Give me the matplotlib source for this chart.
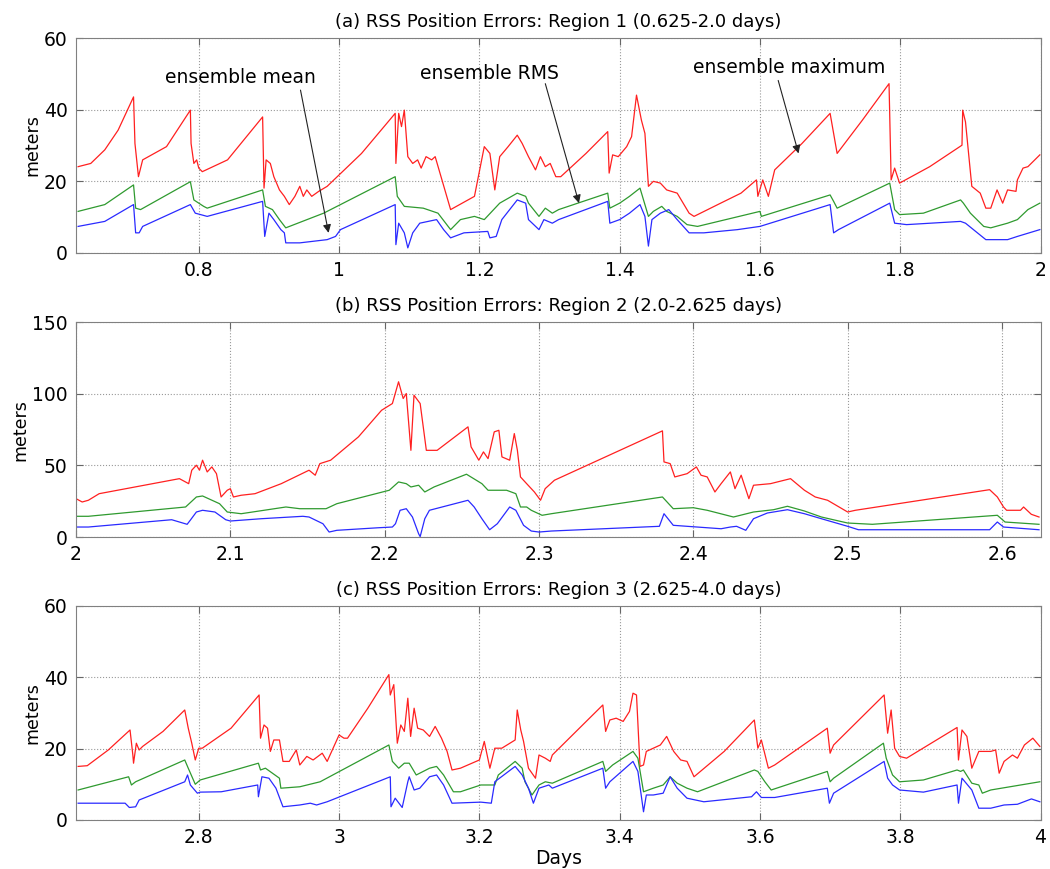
import matplotlib
matplotlib.use("Agg")
import matplotlib.pyplot as plt

plt.rcParams['font.family'] = ['DejaVu Sans']

# ---- region 1 (0.625-2.0 days) ----
a_max_x = [0.628, 0.646, 0.666, 0.685, 0.707, 0.709, 0.714, 0.72, 0.754, 0.788, 0.789, 0.793, 0.797, 0.80, 0.805,
           0.841, 0.891, 0.893, 0.896, 0.902, 0.907, 0.915, 0.922, 0.929, 0.937, 0.944, 0.949, 0.954, 0.961, 0.971,
           0.983, 1.032, 1.08, 1.081, 1.085, 1.089, 1.093, 1.098, 1.105, 1.112, 1.117, 1.124, 1.132, 1.137, 1.159,
           1.193, 1.207, 1.215, 1.222, 1.229, 1.241, 1.254, 1.261, 1.27, 1.28, 1.287, 1.294, 1.301, 1.309, 1.316,
           1.352, 1.383, 1.385, 1.39, 1.398, 1.41, 1.417, 1.424, 1.431, 1.436, 1.441, 1.448, 1.458, 1.467, 1.482,
           1.499, 1.506, 1.544, 1.573, 1.595, 1.597, 1.604, 1.612, 1.621, 1.66, 1.70, 1.71, 1.746, 1.784, 1.787,
           1.792, 1.799, 1.842, 1.888, 1.889, 1.893, 1.902, 1.914, 1.922, 1.929, 1.938, 1.946, 1.953, 1.965, 1.967,
           1.975, 1.982, 1.999]
a_max_y = [24.1, 25.0, 28.8, 34.3, 43.6, 30.6, 21.3, 26.0, 29.7, 39.9, 30.6, 25.0, 26.0, 23.7, 22.7,
           26.0, 38.0, 18.1, 26.0, 25.0, 21.3, 17.6, 15.8, 13.5, 15.8, 18.6, 15.8, 17.6, 15.8, 17.2,
           18.6, 27.8, 39.0, 25.0, 39.0, 35.3, 39.9, 26.9, 25.0, 26.0, 23.7, 26.9, 26.0, 26.9, 12.1,
           15.8, 29.7, 27.8, 17.6, 26.9, 29.7, 32.9, 30.6, 26.9, 23.2, 26.9, 24.1, 25.0, 21.3, 21.3,
           27.8, 33.9, 22.3, 27.4, 26.9, 29.7, 32.5, 44.1, 37.1, 33.4, 18.6, 20.0, 19.5, 17.6, 16.7,
           11.1, 10.2, 13.9, 16.7, 20.4, 15.8, 20.4, 15.8, 23.2, 30.6, 39.0, 27.8, 37.1, 47.3, 20.4,
           23.7, 19.5, 24.1, 30.1, 39.9, 36.6, 18.6, 16.7, 12.5, 12.5, 17.6, 13.9, 17.6, 17.2, 20.4,
           23.7, 24.1, 27.4]
a_rms_x = [0.628, 0.666, 0.707, 0.71, 0.717, 0.788, 0.793, 0.807, 0.812, 0.891, 0.895, 0.905, 0.915, 0.924, 0.978,
           1.08, 1.083, 1.093, 1.12, 1.141, 1.159, 1.173, 1.193, 1.207, 1.229, 1.254, 1.266, 1.27, 1.285, 1.294,
           1.304, 1.313, 1.383, 1.386, 1.40, 1.414, 1.429, 1.441, 1.448, 1.46, 1.467, 1.482, 1.496, 1.511, 1.60,
           1.602, 1.70, 1.705, 1.71, 1.785, 1.792, 1.799, 1.833, 1.886, 1.89, 1.90, 1.919, 1.929, 1.953, 1.967,
           1.982, 1.999]
a_rms_y = [11.6, 13.5, 19.0, 12.5, 12.1, 19.9, 14.8, 13.0, 12.5, 17.6, 13.0, 12.1, 9.3, 7.0, 11.1,
           21.3, 15.8, 13.0, 12.5, 11.1, 6.5, 9.3, 10.2, 9.3, 13.9, 16.7, 15.8, 13.9, 10.2, 12.5,
           11.1, 12.1, 16.7, 12.5, 13.9, 15.8, 18.1, 10.2, 11.6, 13.0, 11.6, 10.2, 7.9, 7.4, 11.6,
           10.2, 16.2, 14.4, 12.5, 19.5, 12.1, 10.7, 11.1, 14.8, 13.9, 11.1, 7.4, 7.0, 8.3, 9.3,
           12.1, 13.9]
a_mean_x = [0.628, 0.666, 0.707, 0.71, 0.715, 0.72, 0.788, 0.795, 0.812, 0.891, 0.894, 0.90, 0.907, 0.917, 0.922,
            0.924, 0.944, 0.983, 0.995, 1.002, 1.08, 1.081, 1.085, 1.093, 1.098, 1.105, 1.115, 1.139, 1.149, 1.159,
            1.178, 1.212, 1.215, 1.224, 1.232, 1.254, 1.266, 1.27, 1.285, 1.292, 1.304, 1.313, 1.383, 1.386, 1.40,
            1.414, 1.429, 1.436, 1.441, 1.446, 1.458, 1.47, 1.482, 1.499, 1.52, 1.568, 1.60, 1.70, 1.705, 1.712,
            1.785, 1.792, 1.809, 1.886, 1.893, 1.91, 1.922, 1.953, 1.967, 1.999]
a_mean_y = [7.4, 8.8, 13.5, 5.6, 5.6, 7.4, 13.5, 11.1, 10.2, 14.4, 4.6, 11.1, 9.3, 6.5, 5.6,
            2.8, 2.8, 3.7, 4.6, 6.5, 13.5, 2.3, 8.3, 5.6, 1.4, 5.6, 8.3, 9.3, 6.5, 4.2,
            5.6, 6.0, 4.2, 4.6, 9.3, 14.8, 13.9, 9.3, 6.5, 9.3, 8.3, 9.3, 14.4, 8.3, 9.3,
            11.1, 13.5, 10.2, 1.9, 9.3, 11.1, 12.1, 9.3, 5.6, 5.6, 6.5, 7.4, 13.5, 5.6, 6.5,
            13.9, 8.3, 7.9, 8.8, 8.3, 5.6, 3.7, 3.7, 4.6, 6.5]

# ---- region 2 (2.0-2.625 days) ----
b_max_x = [2.0, 2.004, 2.008, 2.015, 2.067, 2.073, 2.075, 2.078, 2.08, 2.082, 2.085, 2.088, 2.091, 2.094, 2.098,
           2.10, 2.102, 2.107, 2.116, 2.133, 2.151, 2.155, 2.158, 2.165, 2.183, 2.198, 2.205, 2.209, 2.212, 2.214,
           2.217, 2.219, 2.223, 2.227, 2.234, 2.254, 2.256, 2.261, 2.264, 2.267, 2.271, 2.274, 2.276, 2.281, 2.284,
           2.286, 2.288, 2.292, 2.297, 2.301, 2.304, 2.31, 2.38, 2.381, 2.385, 2.388, 2.396, 2.402, 2.405, 2.409,
           2.414, 2.418, 2.424, 2.427, 2.431, 2.436, 2.439, 2.45, 2.463, 2.472, 2.479, 2.487, 2.50, 2.505, 2.592,
           2.597, 2.601, 2.603, 2.612, 2.614, 2.619, 2.624]
b_max_y = [26.8, 24.5, 25.7, 30.3, 40.8, 37.3, 46.7, 50.2, 46.7, 53.7, 45.5, 49.0, 44.3, 28.0, 32.7,
           33.8, 28.0, 29.2, 30.3, 37.3, 46.7, 43.2, 51.3, 53.7, 70.0, 88.6, 93.3, 108.5, 96.8, 100.3,
           60.6, 99.1, 93.3, 60.6, 60.6, 77.0, 63.0, 53.7, 59.5, 54.8, 73.5, 74.6, 56.0, 53.7, 72.3,
           60.6, 42.0, 37.3, 31.5, 25.7, 33.8, 39.7, 74.2, 52.5, 51.3, 42.0, 44.3, 49.0, 43.2, 42.0,
           31.5, 37.3, 45.5, 33.8, 43.2, 26.8, 36.2, 37.3, 40.8, 32.7, 28.0, 25.7, 17.5, 18.7, 33.1,
           28.0, 21.0, 18.7, 18.7, 21.0, 15.9, 14.0]
b_rms_x = [2.0, 2.008, 2.071, 2.078, 2.082, 2.093, 2.098, 2.107, 2.136, 2.145, 2.162, 2.169, 2.203, 2.209, 2.214,
           2.217, 2.222, 2.226, 2.232, 2.253, 2.263, 2.267, 2.279, 2.285, 2.288, 2.292, 2.295, 2.302, 2.308, 2.38,
           2.387, 2.40, 2.409, 2.426, 2.439, 2.452, 2.461, 2.472, 2.483, 2.50, 2.516, 2.597, 2.602, 2.624]
b_rms_y = [14.5, 14.5, 21.0, 28.0, 28.7, 23.3, 17.5, 16.3, 21.0, 19.8, 19.8, 23.3, 32.7, 38.5, 37.3,
           35.0, 36.2, 31.5, 35.0, 43.9, 37.3, 32.7, 32.7, 30.3, 21.0, 21.0, 18.7, 15.2, 16.3, 28.0,
           19.8, 20.5, 18.7, 14.0, 17.5, 19.1, 21.5, 18.2, 14.0, 9.8, 8.9, 15.2, 10.5, 8.9]
b_mean_x = [2.0, 2.008, 2.062, 2.072, 2.074, 2.078, 2.082, 2.09, 2.097, 2.10, 2.12, 2.147, 2.151, 2.16, 2.164,
            2.169, 2.196, 2.205, 2.207, 2.21, 2.214, 2.218, 2.222, 2.223, 2.226, 2.229, 2.254, 2.258, 2.263, 2.268,
            2.273, 2.281, 2.285, 2.29, 2.295, 2.30, 2.308, 2.378, 2.381, 2.387, 2.396, 2.418, 2.424, 2.428, 2.434,
            2.439, 2.448, 2.461, 2.472, 2.483, 2.50, 2.507, 2.592, 2.597, 2.601, 2.624]
b_mean_y = [7.0, 7.0, 12.1, 8.9, 11.7, 17.5, 18.7, 17.5, 12.1, 11.2, 12.8, 14.5, 14.0, 9.3, 3.5,
            4.7, 6.5, 7.0, 9.3, 18.7, 19.8, 14.0, 2.3, 0.3, 12.8, 18.7, 25.7, 21.0, 12.8, 5.1,
            9.3, 21.0, 18.7, 8.2, 4.2, 3.5, 4.2, 7.5, 16.3, 8.2, 7.5, 5.8, 7.0, 7.5, 4.7,
            12.8, 16.8, 19.1, 16.3, 12.8, 7.5, 5.1, 5.1, 10.5, 7.0, 5.1]

# ---- region 3 (2.625-4.0 days) ----
c_max_x = [2.628, 2.641, 2.671, 2.702, 2.706, 2.707, 2.711, 2.715, 2.72, 2.749, 2.78, 2.785, 2.79, 2.795, 2.80,
           2.805, 2.846, 2.886, 2.888, 2.893, 2.898, 2.902, 2.907, 2.915, 2.92, 2.929, 2.939, 2.944, 2.954, 2.963,
           2.976, 2.983, 3.0, 3.007, 3.012, 3.041, 3.071, 3.073, 3.078, 3.083, 3.088, 3.093, 3.098, 3.102, 3.107,
           3.112, 3.12, 3.129, 3.137, 3.146, 3.154, 3.161, 3.173, 3.20, 3.207, 3.215, 3.222, 3.232, 3.251, 3.254,
           3.259, 3.263, 3.27, 3.28, 3.285, 3.294, 3.301, 3.304, 3.376, 3.38, 3.386, 3.395, 3.405, 3.414, 3.419,
           3.424, 3.429, 3.434, 3.438, 3.448, 3.458, 3.467, 3.477, 3.487, 3.496, 3.506, 3.549, 3.592, 3.597, 3.602,
           3.612, 3.621, 3.696, 3.70, 3.705, 3.777, 3.782, 3.787, 3.792, 3.799, 3.809, 3.881, 3.883, 3.888, 3.895,
           3.902, 3.912, 3.929, 3.936, 3.941, 3.948, 3.96, 3.967, 3.977, 3.989, 3.999]
c_max_y = [15.0, 15.2, 19.6, 25.2, 18.2, 15.9, 21.5, 19.6, 20.6, 24.8, 30.8, 25.7, 21.5, 16.8, 20.1,
           20.1, 25.7, 35.0, 22.9, 26.6, 25.7, 19.2, 22.4, 22.4, 16.4, 16.4, 19.6, 15.4, 17.8, 16.8,
           18.7, 16.4, 23.8, 22.9, 22.9, 31.3, 40.7, 35.0, 37.9, 21.5, 26.6, 24.8, 34.1, 23.4, 31.3,
           25.7, 25.2, 23.4, 26.2, 22.9, 19.2, 14.0, 14.5, 16.8, 22.0, 14.5, 20.1, 20.1, 22.4, 30.8,
           25.2, 22.0, 14.5, 11.7, 18.2, 17.3, 16.4, 18.2, 32.2, 24.8, 28.0, 28.5, 27.6, 30.4, 35.5,
           35.0, 15.0, 15.4, 19.2, 20.1, 21.0, 23.4, 19.2, 16.8, 16.4, 12.1, 19.2, 28.0, 20.1, 22.4,
           14.5, 15.4, 25.7, 18.7, 21.0, 35.0, 24.3, 30.8, 20.1, 17.8, 17.3, 25.9, 16.8, 25.2, 23.4,
           14.5, 19.2, 19.2, 19.6, 13.1, 16.4, 18.2, 17.3, 21.0, 22.9, 20.6]
c_rms_x = [2.628, 2.70, 2.704, 2.71, 2.78, 2.785, 2.795, 2.802, 2.885, 2.888, 2.895, 2.905, 2.915, 2.917, 2.944,
           2.973, 3.071, 3.076, 3.085, 3.093, 3.10, 3.11, 3.129, 3.139, 3.149, 3.163, 3.173, 3.202, 3.222, 3.227,
           3.251, 3.261, 3.265, 3.275, 3.285, 3.294, 3.304, 3.376, 3.38, 3.39, 3.419, 3.426, 3.434, 3.448, 3.462,
           3.472, 3.482, 3.496, 3.511, 3.592, 3.597, 3.607, 3.616, 3.696, 3.70, 3.705, 3.776, 3.78, 3.789, 3.799,
           3.833, 3.881, 3.886, 3.89, 3.902, 3.912, 3.917, 3.929, 3.999]
c_rms_y = [8.4, 12.1, 9.8, 10.7, 16.8, 14.5, 10.0, 11.2, 15.9, 14.0, 14.5, 13.1, 11.7, 8.9, 9.3,
           10.7, 21.0, 16.4, 14.5, 15.9, 15.9, 12.6, 14.5, 15.0, 12.6, 7.9, 7.9, 9.8, 9.8, 12.6,
           16.4, 14.5, 10.7, 7.0, 9.8, 10.7, 10.3, 16.4, 13.6, 15.4, 19.2, 17.3, 7.9, 8.9, 9.8,
           12.1, 10.3, 8.9, 7.9, 14.0, 13.6, 10.7, 8.4, 13.6, 10.7, 11.7, 21.5, 17.3, 12.6, 10.7,
           11.2, 14.0, 13.6, 14.0, 10.3, 9.8, 7.5, 8.4, 10.7]
c_mean_x = [2.628, 2.695, 2.701, 2.71, 2.715, 2.78, 2.784, 2.788, 2.798, 2.802, 2.832, 2.884, 2.885, 2.89, 2.90,
            2.91, 2.92, 2.944, 2.959, 2.968, 2.983, 3.073, 3.074, 3.08, 3.09, 3.098, 3.10, 3.107, 3.115, 3.129,
            3.139, 3.149, 3.161, 3.202, 3.217, 3.222, 3.251, 3.261, 3.27, 3.277, 3.285, 3.299, 3.304, 3.376, 3.38,
            3.386, 3.419, 3.426, 3.434, 3.438, 3.448, 3.462, 3.472, 3.482, 3.496, 3.52, 3.588, 3.595, 3.602, 3.621,
            3.696, 3.699, 3.705, 3.777, 3.782, 3.789, 3.799, 3.833, 3.881, 3.883, 3.888, 3.902, 3.912, 3.929, 3.948,
            3.967, 3.987, 3.999]
c_mean_y = [4.7, 4.7, 3.5, 3.7, 5.6, 10.7, 12.6, 9.8, 7.5, 7.8, 7.9, 9.8, 6.5, 12.1, 11.7,
            8.9, 3.7, 4.2, 4.7, 4.2, 5.1, 12.1, 3.7, 6.1, 3.5, 10.7, 12.1, 8.4, 8.9, 12.1,
            12.6, 9.8, 4.7, 5.0, 4.7, 10.7, 15.0, 12.6, 8.9, 4.7, 8.9, 9.8, 8.9, 14.5, 8.9,
            10.7, 16.4, 13.6, 2.3, 7.0, 7.0, 7.5, 12.1, 8.9, 6.1, 5.1, 6.5, 7.9, 6.3, 6.3,
            8.9, 4.7, 7.5, 16.4, 11.7, 9.8, 8.4, 7.8, 9.8, 4.7, 11.7, 8.4, 3.3, 3.3, 4.2,
            4.4, 5.9, 5.1]

titles = ['(a) RSS Position Errors: Region 1 (0.625-2.0 days)',
          '(b) RSS Position Errors: Region 2 (2.0-2.625 days)',
          '(c) RSS Position Errors: Region 3 (2.625-4.0 days)']
xlims = [(0.625, 2.0), (2.0, 2.625), (2.625, 4.0)]
xticks = [[0.8, 1, 1.2, 1.4, 1.6, 1.8, 2], [2, 2.1, 2.2, 2.3, 2.4, 2.5, 2.6], [2.8, 3, 3.2, 3.4, 3.6, 3.8, 4]]
xticklabels = [['0.8', '1', '1.2', '1.4', '1.6', '1.8', '2'],
               ['2', '2.1', '2.2', '2.3', '2.4', '2.5', '2.6'],
               ['2.8', '3', '3.2', '3.4', '3.6', '3.8', '4']]
ylims = [60, 150, 60]
yticks = [[0, 20, 40, 60], [0, 50, 100, 150], [0, 20, 40, 60]]

series = [
    [(a_max_x, a_max_y), (a_rms_x, a_rms_y), (a_mean_x, a_mean_y)],
    [(b_max_x, b_max_y), (b_rms_x, b_rms_y), (b_mean_x, b_mean_y)],
    [(c_max_x, c_max_y), (c_rms_x, c_rms_y), (c_mean_x, c_mean_y)],
]
colors = ['#ff2020', '#2f9a2f', '#2a2aff']

fig = plt.figure(figsize=(10.5, 8.69), dpi=100)
boxes = [(0.709, 0.956), (0.382, 0.629), (0.0564, 0.303)]
axes = []
for i in range(3):
    b, t = boxes[i]
    ax = fig.add_axes([0.0724, b, 0.9186, t - b])
    for (xs, ys), c in zip(series[i], colors):
        ax.plot(xs, ys, color=c, lw=0.9)
    ax.set_xlim(*xlims[i])
    ax.set_ylim(0, ylims[i])
    ax.set_xticks(xticks[i])
    ax.set_xticklabels(xticklabels[i])
    ax.set_yticks(yticks[i])
    ax.grid(True, linestyle=':', color='#999999', lw=0.8)
    ax.tick_params(direction='in', top=True, right=True, labelsize=13.5, length=5, color='#666666', pad=6)
    for s in ax.spines.values():
        s.set_color('#808080')
    ax.set_title(titles[i], fontsize=13, pad=8)
    ax.set_ylabel('meters', fontsize=12.5, labelpad=2)
    axes.append(ax)

axes[2].set_xlabel('Days', fontsize=13.5, labelpad=1)

arrow = dict(arrowstyle='-|>', color='#222222', lw=0.8, mutation_scale=12, shrinkA=0, shrinkB=0)
ax = axes[0]
ax.text(0.859, 49.1, 'ensemble mean', ha='center', va='center', fontsize=13.5)
ax.annotate('', xy=(0.985, 5.6), xytext=(0.945, 45.5), arrowprops=arrow)
ax.text(1.215, 50.2, 'ensemble RMS', ha='center', va='center', fontsize=13.5)
ax.annotate('', xy=(1.342, 13.9), xytext=(1.294, 47.3), arrowprops=arrow)
ax.text(1.642, 51.8, 'ensemble maximum', ha='center', va='center', fontsize=13.5)
ax.annotate('', xy=(1.655, 27.8), xytext=(1.626, 48.2), arrowprops=arrow)

fig.savefig('out.png', dpi=100)
